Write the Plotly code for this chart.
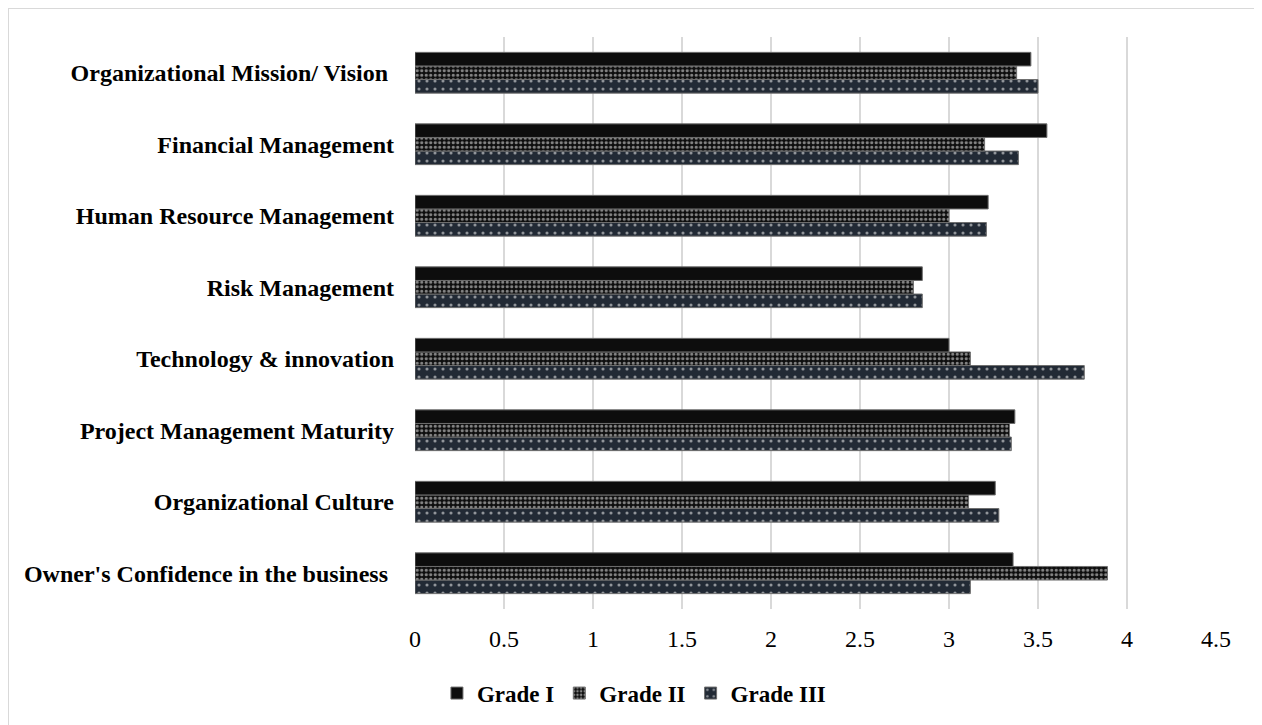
import plotly.graph_objects as go

categories = [
    "Owner's Confidence in the business\u00a0",
    "Organizational Culture",
    "Project Management Maturity",
    "Technology & innovation",
    "Risk Management",
    "Human Resource Management",
    "Financial Management",
    "Organizational Mission/ Vision\u00a0",
]
grade_1 = [3.36, 3.26, 3.37, 3.00, 2.85, 3.22, 3.55, 3.46]
grade_2 = [3.89, 3.11, 3.34, 3.12, 2.80, 3.00, 3.20, 3.38]
grade_3 = [3.12, 3.28, 3.35, 3.76, 2.85, 3.21, 3.39, 3.50]
x_ticks = [0, 0.5, 1, 1.5, 2, 2.5, 3, 3.5, 4, 4.5]

FONT = "Liberation Serif, Times New Roman, serif"
line = dict(color="#6e6e6e", width=1)

fig = go.Figure()
fig.add_trace(go.Bar(
    y=categories, x=grade_3, orientation="h", name="Grade III",
    marker=dict(color="#222a35", line=line,
                pattern=dict(shape=".", fgcolor="white", bgcolor="#222a35",
                             size=8, solidity=0.12)),
    legendrank=3,
))
fig.add_trace(go.Bar(
    y=categories, x=grade_2, orientation="h", name="Grade II",
    marker=dict(color="#0d0d0d", line=line,
                pattern=dict(shape=".", fgcolor="white", bgcolor="#0d0d0d",
                             size=4.5, solidity=0.4)),
    legendrank=2,
))
fig.add_trace(go.Bar(
    y=categories, x=grade_1, orientation="h", name="Grade I",
    marker=dict(color="#0d0d0d", line=line),
    legendrank=1,
))

L, R, T, B = 407, 54, 29, 124
PW, PH = 1262 - L - R, 725 - T - B

# chart border
fig.add_shape(type="rect", xref="paper", yref="paper",
              x0=(0 - L) / PW, x1=(1252 - L) / PW,
              y0=(PH + T - 740) / PH, y1=(PH + T - 0) / PH,
              line=dict(color="#d9d9d9", width=2), layer="below")

fig.update_layout(
    width=1262, height=725,
    margin=dict(l=L, r=R, t=T, b=B),
    paper_bgcolor="white", plot_bgcolor="white",
    barmode="group", bargap=0.43, bargroupgap=0,
    font=dict(family=FONT, color="black"),
    showlegend=True,
    legend=dict(orientation="h", xref="container", x=0.496, xanchor="center",
                yref="container", y=0.055, yanchor="middle",
                font=dict(family=FONT, size=23, color="black", weight="bold"),
                itemwidth=30, tracegroupgap=0),
    xaxis=dict(range=[0, 4.5], tickvals=x_ticks, ticktext=[str(v) for v in x_ticks],
               showgrid=True, gridcolor="#d9d9d9", gridwidth=1.5,
               zeroline=False, showline=False, ticks="",
               tickfont=dict(family=FONT, size=24, color="black"),
               ticklabelstandoff=13),
    yaxis=dict(showgrid=False, zeroline=False, showline=False, ticks="",
               tickfont=dict(family=FONT, size=24, color="black", weight="bold"),
               ticklabelstandoff=20),
)

fig.write_html("out.html")
